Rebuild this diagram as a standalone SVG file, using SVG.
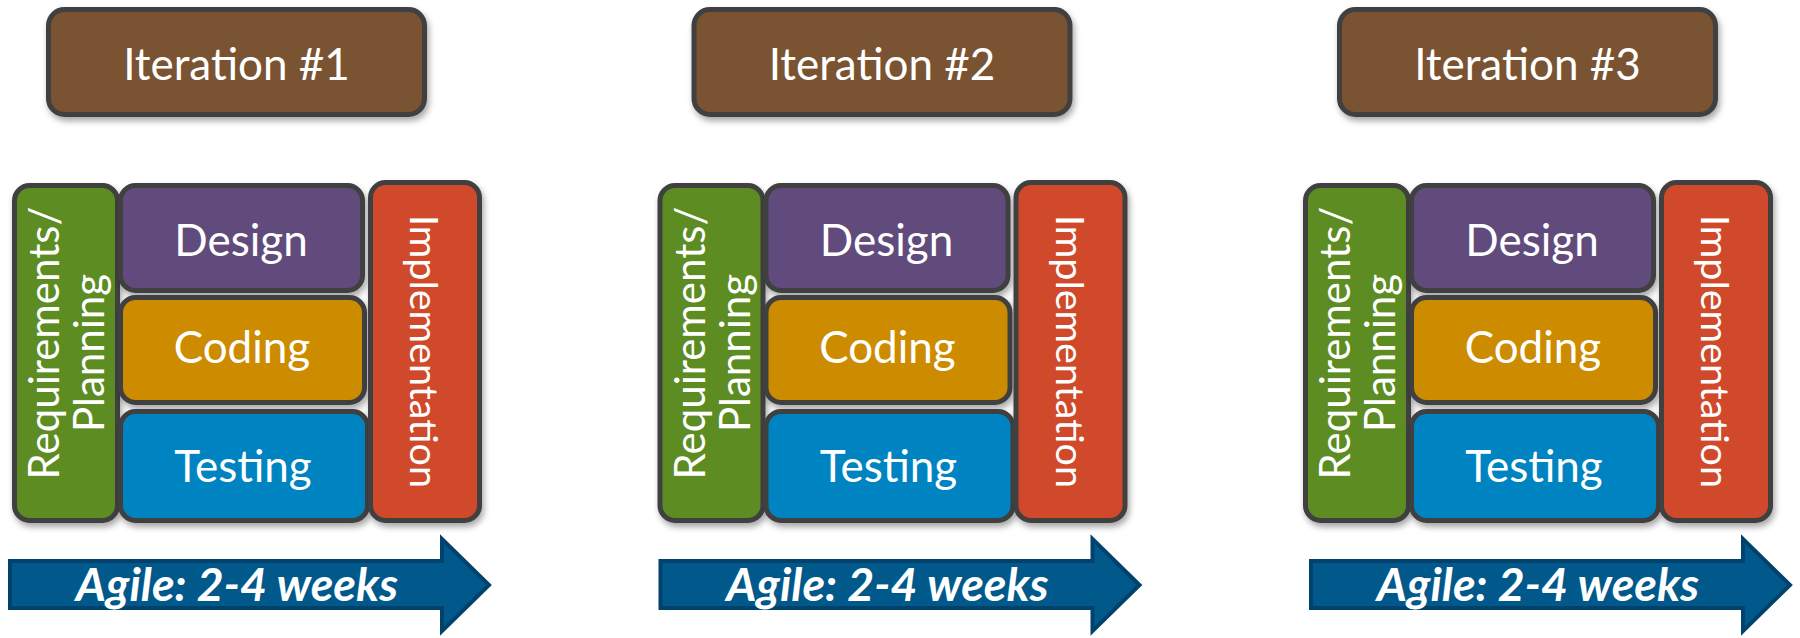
<svg xmlns="http://www.w3.org/2000/svg" width="1800" height="638" viewBox="0 0 1800 638">
  <defs>
    <filter id="shadow" x="-10%" y="-10%" width="130%" height="130%">
      <feDropShadow dx="2" dy="4" stdDeviation="3" flood-color="#000" flood-opacity="0.35"/>
    </filter>
    <style>
      .box { stroke: #404040; stroke-width: 5; filter: url(#shadow); }
      .iter { fill: #7A5232; }
      .req { fill: #5B8C22; }
      .des { fill: #604C7C; }
      .cod { fill: #CD8C00; }
      .tes { fill: #0284C1; }
      .imp { fill: #D04A2B; }
      .lbl { font-family: Lato, "Open Sans", sans-serif; fill: #FFFFFF; text-anchor: middle; font-size: 44px; }
      .vreq { font-size: 42px; }
      .vimp { font-size: 39.5px; }
      .arrow { fill: #00598A; stroke: #00426C; stroke-width: 4; stroke-linejoin: miter; }
      .agile { font-family: Lato, "Open Sans", sans-serif; fill: #FFFFFF; text-anchor: middle; font-size: 46.5px; font-weight: bold; font-style: italic; }
    </style>
  </defs>
  <rect width="1800" height="638" fill="#FFFFFF"/>

  <g id="iteration1" transform="translate(0,0)">
    <g id="it1-title"><rect class="box iter" x="48.5" y="9.5" width="376" height="105" rx="16"/><text class="lbl" x="236.5" y="80">Iteration #1</text></g>
    <g id="it1-requirements"><rect class="box req" x="14.5" y="185.5" width="103" height="335" rx="15"/><text class="lbl vreq" transform="rotate(-90 0 0)" x="-343" y="59">Requirements/</text><text class="lbl vreq" transform="rotate(-90 0 0)" x="-353" y="104">Planning</text></g>
    <g id="it1-design"><rect class="box des" x="120.5" y="185.5" width="242" height="105" rx="15"/><text class="lbl" x="241" y="256">Design</text></g>
    <g id="it1-coding"><rect class="box cod" x="120.5" y="297.5" width="244" height="105" rx="15"/><text class="lbl" x="242" y="363">Coding</text></g>
    <g id="it1-testing"><rect class="box tes" x="120.5" y="411.5" width="247" height="109" rx="15"/><text class="lbl" x="243" y="482">Testing</text></g>
    <g id="it1-implementation"><rect class="box imp" x="370.5" y="182.5" width="109" height="338" rx="15"/><text class="lbl vimp" transform="rotate(90 410 351.5)" x="410" y="351.5">Implementation</text></g>
  </g>

  <g id="iteration2" transform="translate(645.5,0)">
    <g id="it2-title"><rect class="box iter" x="48.5" y="9.5" width="376" height="105" rx="16"/><text class="lbl" x="236.5" y="80">Iteration #2</text></g>
    <g id="it2-requirements"><rect class="box req" x="14.5" y="185.5" width="103" height="335" rx="15"/><text class="lbl vreq" transform="rotate(-90 0 0)" x="-343" y="59">Requirements/</text><text class="lbl vreq" transform="rotate(-90 0 0)" x="-353" y="104">Planning</text></g>
    <g id="it2-design"><rect class="box des" x="120.5" y="185.5" width="242" height="105" rx="15"/><text class="lbl" x="241" y="256">Design</text></g>
    <g id="it2-coding"><rect class="box cod" x="120.5" y="297.5" width="244" height="105" rx="15"/><text class="lbl" x="242" y="363">Coding</text></g>
    <g id="it2-testing"><rect class="box tes" x="120.5" y="411.5" width="247" height="109" rx="15"/><text class="lbl" x="243" y="482">Testing</text></g>
    <g id="it2-implementation"><rect class="box imp" x="370.5" y="182.5" width="109" height="338" rx="15"/><text class="lbl vimp" transform="rotate(90 410 351.5)" x="410" y="351.5">Implementation</text></g>
  </g>

  <g id="iteration3" transform="translate(1291,0)">
    <g id="it3-title"><rect class="box iter" x="48.5" y="9.5" width="376" height="105" rx="16"/><text class="lbl" x="236.5" y="80">Iteration #3</text></g>
    <g id="it3-requirements"><rect class="box req" x="14.5" y="185.5" width="103" height="335" rx="15"/><text class="lbl vreq" transform="rotate(-90 0 0)" x="-343" y="59">Requirements/</text><text class="lbl vreq" transform="rotate(-90 0 0)" x="-353" y="104">Planning</text></g>
    <g id="it3-design"><rect class="box des" x="120.5" y="185.5" width="242" height="105" rx="15"/><text class="lbl" x="241" y="256">Design</text></g>
    <g id="it3-coding"><rect class="box cod" x="120.5" y="297.5" width="244" height="105" rx="15"/><text class="lbl" x="242" y="363">Coding</text></g>
    <g id="it3-testing"><rect class="box tes" x="120.5" y="411.5" width="247" height="109" rx="15"/><text class="lbl" x="243" y="482">Testing</text></g>
    <g id="it3-implementation"><rect class="box imp" x="370.5" y="182.5" width="109" height="338" rx="15"/><text class="lbl vimp" transform="rotate(90 410 351.5)" x="410" y="351.5">Implementation</text></g>
  </g>

  <g id="connectors">
    <g id="arrow1"><polygon class="arrow" points="10,561 442,561 442,539 489,585 442,631 442,608 10,608"/><text class="agile" x="237" y="601">Agile: 2-4 weeks</text></g>
    <g id="arrow2" transform="translate(650.5,0)"><polygon class="arrow" points="10,561 442,561 442,539 489,585 442,631 442,608 10,608"/><text class="agile" x="237" y="601">Agile: 2-4 weeks</text></g>
    <g id="arrow3" transform="translate(1301,0)"><polygon class="arrow" points="10,561 442,561 442,539 489,585 442,631 442,608 10,608"/><text class="agile" x="237" y="601">Agile: 2-4 weeks</text></g>
  </g>
</svg>
